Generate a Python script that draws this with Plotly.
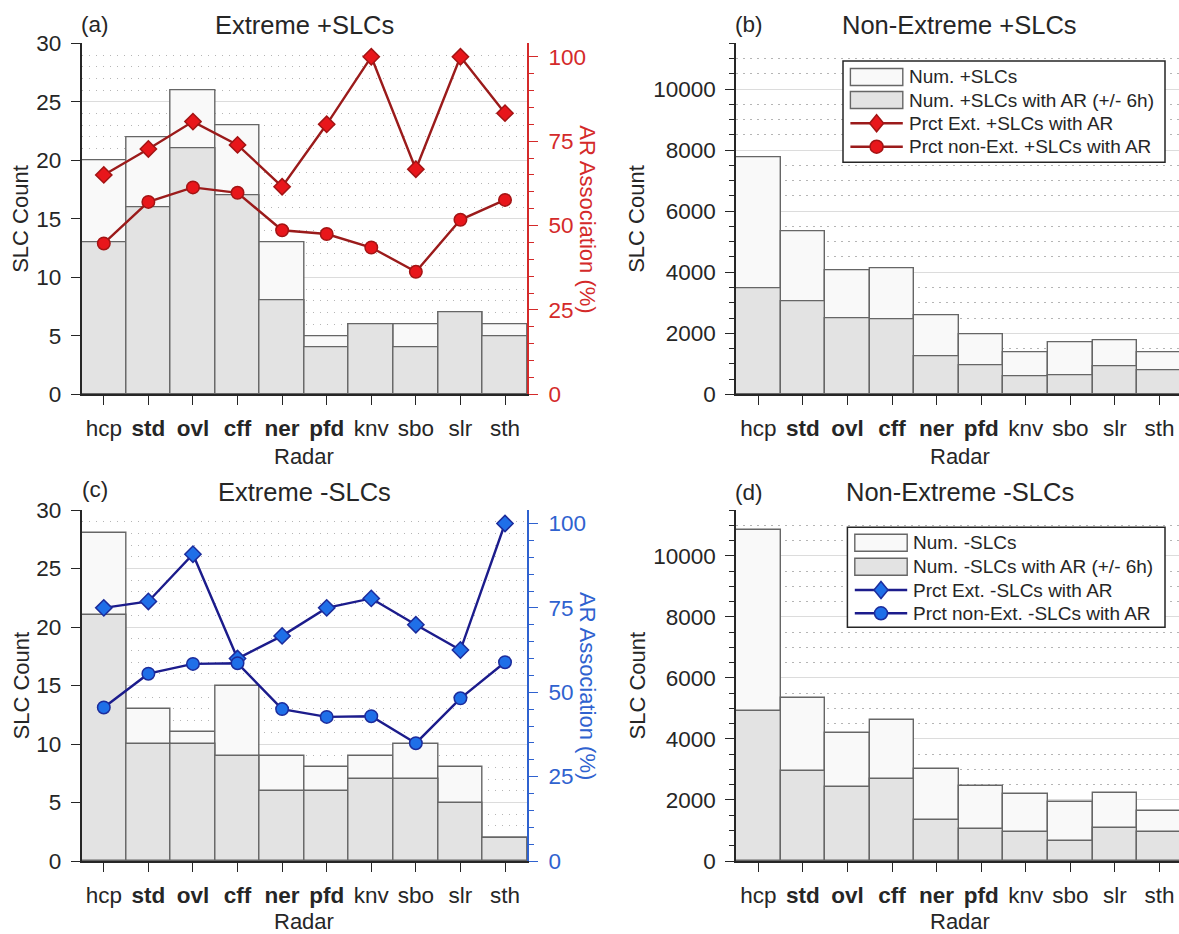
import plotly.graph_objects as go

# ---- data -----------------------------------------------------------------
radars = ["hcp", "std", "ovl", "cff", "ner", "pfd", "knv", "sbo", "slr", "sth"]
bold_radars = ["std", "ovl", "cff", "ner", "pfd"]

# extreme positive SLCs (counts)
ext_pos_total = [20, 22, 26, 23, 13, 5, 6, 6, 7, 6]
ext_pos_ar = [13, 16, 21, 17, 8, 4, 6, 4, 7, 5]
# non-extreme positive SLCs (counts)
nonext_pos_total = [7780, 5330, 4060, 4120, 2580, 1980, 1380, 1710, 1780, 1390]
nonext_pos_ar = [3480, 3040, 2490, 2460, 1255, 940, 600, 620, 920, 800]
# extreme negative SLCs (counts)
ext_neg_total = [28, 13, 11, 15, 9, 8, 9, 10, 8, 2]
ext_neg_ar = [21, 10, 10, 9, 6, 6, 7, 7, 5, 2]
# non-extreme negative SLCs (counts)
nonext_neg_total = [10840, 5330, 4180, 4610, 3000, 2460, 2190, 1920, 2220, 1630]
nonext_neg_ar = [4930, 2960, 2440, 2700, 1350, 1050, 940, 670, 1070, 960]

# AR association percentages
ext_pos_pct = [65.0, 72.7, 80.8, 73.9, 61.5, 80.0, 100.0, 66.7, 100.0, 83.3]
nonext_pos_pct = [44.7, 57.0, 61.3, 59.7, 48.6, 47.5, 43.5, 36.3, 51.7, 57.6]
ext_neg_pct = [75.0, 76.9, 90.9, 60.0, 66.7, 75.0, 77.8, 70.0, 62.5, 100.0]
nonext_neg_pct = [45.5, 55.5, 58.4, 58.6, 45.0, 42.7, 42.9, 34.9, 48.2, 58.9]

# ---- styling --------------------------------------------------------------
W, H = 1179, 934
FONT = "Liberation Sans, Arial, Helvetica, sans-serif"
INK = "#262626"
BAR_EDGE = "#666666"
FILL_ALL = "#F9F9F9"
FILL_AR = "#E3E3E3"
RED_LINE, RED_FILL, RED_EDGE, RED_AXIS = "#9B1B1B", "#E8161B", "#A31414", "#D42A2A"
BLUE_LINE, BLUE_FILL, BLUE_EDGE, BLUE_AXIS = "#1C1C8C", "#1F6FE8", "#1C2C9C", "#2F62CF"
GRID_MAJ, GRID_MIN = "#DCDCDC", "#B5B5B5"
TICK_FS, LABEL_FS, TITLE_FS, LEG_FS = 22.5, 22, 25.5, 19


def fx(px):
    return px / W


def fy(py):
    return 1 - py / H


pos = list(range(1, len(radars) + 1))
ticktext = [f"<b>{r}</b>" if r in bold_radars else r for r in radars]

# plot-area pixel boxes
LEFT_X = (81.5, 527.3)
RIGHT_X = (736.0, 1179.0)
TOP_Y = (43.3, 394.3)
BOT_Y = (510.0, 861.0)
unit_px = (LEFT_X[1] - LEFT_X[0]) / 10.0
right_range_hi = 0.5 + (RIGHT_X[1] - RIGHT_X[0]) / unit_px

fig = go.Figure()


def add_bars(total, ar, xa, ya):
    fig.add_trace(go.Bar(x=pos, y=total, width=1, xaxis=xa, yaxis=ya,
                         marker=dict(color=FILL_ALL, line=dict(color=BAR_EDGE, width=1.4)),
                         showlegend=False, hoverinfo="y"))
    fig.add_trace(go.Bar(x=pos, y=ar, width=1, xaxis=xa, yaxis=ya,
                         marker=dict(color=FILL_AR, line=dict(color=BAR_EDGE, width=1.4)),
                         showlegend=False, hoverinfo="y"))


def add_pct(vals, xa, ya, symbol, size, line_c, fill_c, edge_c):
    fig.add_trace(go.Scatter(x=pos, y=vals, xaxis=xa, yaxis=ya, mode="lines+markers",
                             line=dict(color=line_c, width=2.4),
                             marker=dict(symbol=symbol, size=size, color=fill_c,
                                         line=dict(color=edge_c, width=1.5)),
                             showlegend=False, hoverinfo="y"))


# (a) extreme +SLCs
add_bars(ext_pos_total, ext_pos_ar, "x", "y")
add_pct(ext_pos_pct, "x", "y2", "diamond", 12.5, RED_LINE, RED_FILL, RED_EDGE)
add_pct(nonext_pos_pct, "x", "y2", "circle", 12.5, RED_LINE, RED_FILL, RED_EDGE)
# (b) non-extreme +SLCs
add_bars(nonext_pos_total, nonext_pos_ar, "x2", "y3")
# (c) extreme -SLCs
add_bars(ext_neg_total, ext_neg_ar, "x3", "y4")
add_pct(ext_neg_pct, "x3", "y5", "diamond", 12.5, BLUE_LINE, BLUE_FILL, BLUE_EDGE)
add_pct(nonext_neg_pct, "x3", "y5", "circle", 12.5, BLUE_LINE, BLUE_FILL, BLUE_EDGE)
# (d) non-extreme -SLCs
add_bars(nonext_neg_total, nonext_neg_ar, "x4", "y6")


def xaxis_cfg(dom, rng, anchor):
    return dict(domain=[fx(dom[0]), fx(dom[1])], range=list(rng), anchor=anchor,
                tickmode="array", tickvals=pos, ticktext=ticktext,
                ticks="outside", ticklen=9, tickwidth=1.4, tickcolor=INK,
                showline=True, linecolor=INK, linewidth=1.5, showgrid=False,
                zeroline=False, ticklabelstandoff=4, automargin=False,
                tickfont=dict(size=TICK_FS, color=INK, family=FONT))


def count_axis(dom, rng, dtick, minor_dtick, minor_ticks, anchor):
    minor = dict(dtick=minor_dtick, showgrid=True, gridcolor=GRID_MIN,
                 griddash="1.5px,5.5px", gridwidth=1.2)
    if minor_ticks:
        minor.update(ticks="outside", ticklen=5, tickwidth=1.3, tickcolor=INK)
    return dict(domain=[fy(dom[1]), fy(dom[0])], range=list(rng), anchor=anchor,
                tick0=0, dtick=dtick, tickformat="d", ticks="outside", ticklen=9,
                tickwidth=1.4, tickcolor=INK, showline=True, linecolor=INK, linewidth=1.5,
                showgrid=True, gridcolor=GRID_MAJ, gridwidth=1.3, zeroline=False,
                ticklabelstandoff=5, minor=minor, automargin=False,
                tickfont=dict(size=TICK_FS, color=INK, family=FONT))


def pct_axis(overlay, anchor, color):
    return dict(overlaying=overlay, anchor=anchor, side="right", range=[0, 104],
                tick0=0, dtick=25, ticks="outside", ticklen=9, tickwidth=1.4,
                tickcolor=color, showline=True, linecolor=color, linewidth=1.5,
                showgrid=False, zeroline=False, ticklabelstandoff=6, automargin=False,
                minor=dict(dtick=5, ticks="outside", ticklen=5, tickwidth=1.3,
                           tickcolor=color, showgrid=False),
                tickfont=dict(size=TICK_FS, color=color, family=FONT))


fig.update_layout(
    template="none",
    width=W, height=H, autosize=False,
    margin=dict(l=0, r=0, t=0, b=0, pad=0, autoexpand=False),
    paper_bgcolor="white", plot_bgcolor="white",
    barmode="overlay", bargap=0, showlegend=False,
    font=dict(family=FONT, color=INK),
    xaxis=xaxis_cfg(LEFT_X, (0.5, 10.5), "y"),
    xaxis2=xaxis_cfg(RIGHT_X, (0.5, right_range_hi), "y3"),
    xaxis3=xaxis_cfg(LEFT_X, (0.5, 10.5), "y4"),
    xaxis4=xaxis_cfg(RIGHT_X, (0.5, right_range_hi), "y6"),
    yaxis=count_axis(TOP_Y, (0, 30), 5, 1, False, "x"),
    yaxis2=pct_axis("y", "x", RED_AXIS),
    yaxis3=count_axis(TOP_Y, (0, 11500), 2000, 500, True, "x2"),
    yaxis4=count_axis(BOT_Y, (0, 30), 5, 1, False, "x3"),
    yaxis5=pct_axis("y4", "x3", BLUE_AXIS),
    yaxis6=count_axis(BOT_Y, (0, 11500), 2000, 500, True, "x4"),
)

annotations = []
shapes = []


def text(x, y, s, size, color=INK, xanchor="center", angle=0):
    annotations.append(dict(x=fx(x), y=fy(y), xref="paper", yref="paper", text=s,
                            showarrow=False, xanchor=xanchor, yanchor="middle",
                            textangle=angle,
                            font=dict(size=size, color=color, family=FONT)))


# titles and panel letters
for cx, cy, ttl in [
    ((LEFT_X[0] + LEFT_X[1]) / 2, 25, "Extreme +SLCs"),
    (959.5, 25, "Non-Extreme +SLCs"),
    ((LEFT_X[0] + LEFT_X[1]) / 2, 491.5, "Extreme -SLCs"),
    (959.5, 491.5, "Non-Extreme -SLCs"),
]:
    text(cx, cy, ttl, TITLE_FS)
for lx, ly, letter in [(95, 25, "(a)"), (749, 25, "(b)"), (95, 490, "(c)"), (749, 492, "(d)")]:
    text(lx, ly, letter, 22.5)

# axis titles
for cx in [(LEFT_X[0] + LEFT_X[1]) / 2, 959.5]:
    text(cx, 456.5, "Radar", LABEL_FS)
    text(cx, 921, "Radar", LABEL_FS)
for sx in [21, 637]:
    text(sx, (TOP_Y[0] + TOP_Y[1]) / 2, "SLC Count", LABEL_FS, angle=-90)
    text(sx, (BOT_Y[0] + BOT_Y[1]) / 2, "SLC Count", LABEL_FS, angle=-90)
text(587.5, (TOP_Y[0] + TOP_Y[1]) / 2, "AR Association (%)", LABEL_FS, RED_AXIS, angle=90)
text(587.5, (BOT_Y[0] + BOT_Y[1]) / 2, "AR Association (%)", LABEL_FS, BLUE_AXIS, angle=90)


def legend_box(box, sym_x, text_x, rows, labels, line_c, fill_c, edge_c):
    x0, y0, x1, y1 = box
    shapes.append(dict(type="rect", xref="paper", yref="paper", layer="above",
                       x0=fx(x0), x1=fx(x1), y0=fy(y1), y1=fy(y0),
                       fillcolor="white", line=dict(color=INK, width=1.5)))
    sx0, sx1 = sym_x
    for i, fillc in enumerate([FILL_ALL, FILL_AR]):
        cy = rows[i]
        shapes.append(dict(type="rect", xref="paper", yref="paper", layer="above",
                           x0=fx(sx0), x1=fx(sx1), y0=fy(cy + 8.5), y1=fy(cy - 8.5),
                           fillcolor=fillc, line=dict(color=BAR_EDGE, width=1.4)))
    mx = (sx0 + sx1) / 2
    for i in (2, 3):
        cy = rows[i]
        shapes.append(dict(type="line", xref="paper", yref="paper", layer="above",
                           x0=fx(sx0), x1=fx(sx1), y0=fy(cy), y1=fy(cy),
                           line=dict(color=line_c, width=2.4)))
    cy = rows[2]
    path = (f"M{fx(mx)},{fy(cy - 8.5)} L{fx(mx + 7)},{fy(cy)} "
            f"L{fx(mx)},{fy(cy + 8.5)} L{fx(mx - 7)},{fy(cy)} Z")
    shapes.append(dict(type="path", xref="paper", yref="paper", layer="above", path=path,
                       fillcolor=fill_c, line=dict(color=edge_c, width=1.5)))
    cy = rows[3]
    shapes.append(dict(type="circle", xref="paper", yref="paper", layer="above",
                       x0=fx(mx - 6.5), x1=fx(mx + 6.5), y0=fy(cy + 6.5), y1=fy(cy - 6.5),
                       fillcolor=fill_c, line=dict(color=edge_c, width=1.5)))
    for cy, lab in zip(rows, labels):
        text(text_x, cy, lab, LEG_FS, xanchor="left")


legend_box((843, 61, 1165, 162.3), (850.4, 902.8), 906.5, [77, 100, 123.3, 146.7],
           ["Num. +SLCs", "Num. +SLCs with AR (+/- 6h)",
            "Prct Ext. +SLCs with AR", "Prct non-Ext. +SLCs with AR"],
           RED_LINE, RED_FILL, RED_EDGE)
legend_box((847.4, 527.3, 1165, 627.3), (854.8, 907.2), 911, [542.7, 566.7, 590, 613.3],
           ["Num. -SLCs", "Num. -SLCs with AR (+/- 6h)",
            "Prct Ext. -SLCs with AR", "Prct non-Ext. -SLCs with AR"],
           BLUE_LINE, BLUE_FILL, BLUE_EDGE)

fig.update_layout(annotations=annotations, shapes=shapes)
fig.write_html("out.html")
